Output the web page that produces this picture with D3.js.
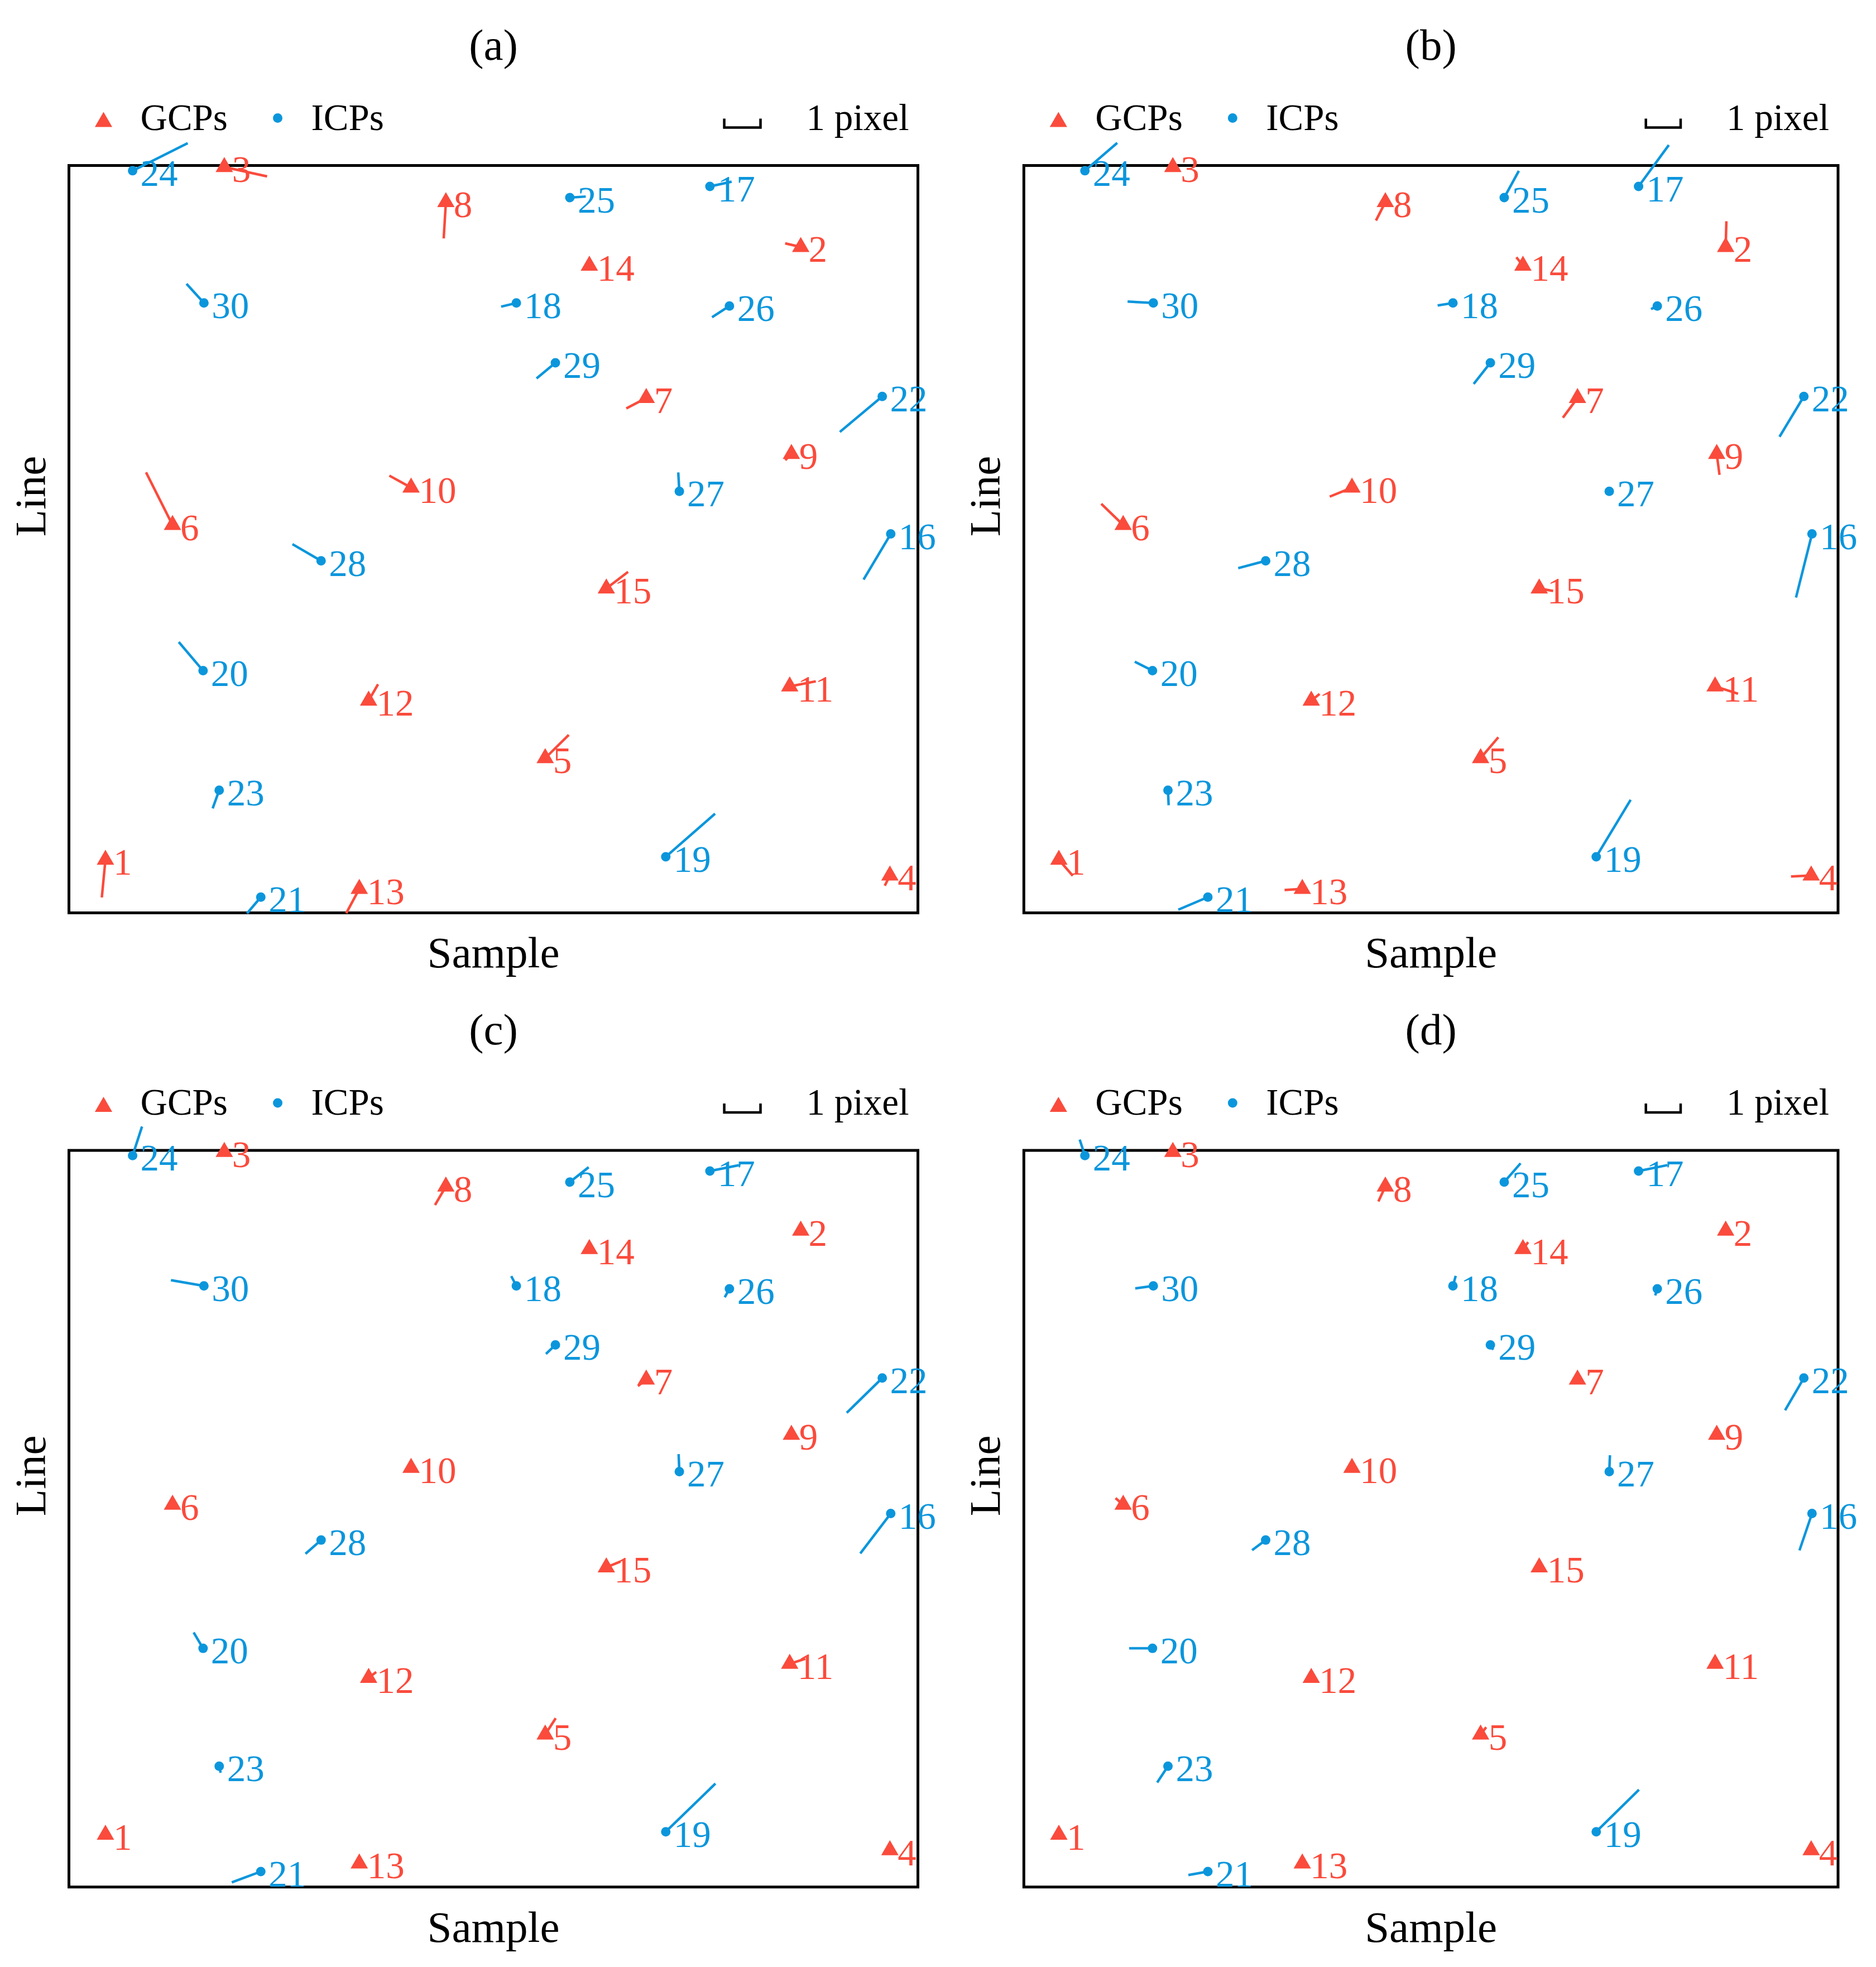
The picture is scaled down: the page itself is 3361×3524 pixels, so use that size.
<!DOCTYPE html>
<html>
<head>
<meta charset="utf-8">
<script src="https://cdn.jsdelivr.net/npm/d3@7"></script>
<style>
  body { margin: 0; background: #fff; }
  svg { display: block; font-family: "Liberation Serif", "Times New Roman", serif; }
</style>
</head>
<body>
<div id="chart"></div>
<script>
// Point ids (1-15 GCPs, 16-30 ICPs)
const pointIds = d3.range(1, 31);
const gcpIds = d3.range(1, 16);

// Image position of each point (sample, line), normalized 0-1000
const sampleVals = [43, 862, 183, 967, 561, 122, 680, 444, 851, 403, 849, 353, 342, 613, 633,
                    968, 755, 527, 703, 158, 226, 958, 177, 75, 590, 778, 719, 297, 573, 159];
const lineVals   = [929, 109, 2, 950, 793, 481, 311, 49, 386, 431, 697, 716, 968, 134, 566,
                    493, 28, 184, 925, 676, 979, 309, 836, 7, 43, 188, 436, 529, 264, 184];

// Residuals in pixels (sample direction, line direction) for each panel
const residA_dx = [-0.10, -0.43, 1.18, -0.14, 0.65, -0.73, -0.55, -0.06, -0.17, -0.60, 0.72, 0.26, -0.36, -0.04, 0.60,
                   -0.75, 0.60, -0.42, 1.36, -0.67, -0.38, -1.17, -0.18, 1.52, 0.44, -0.48, -0.03, -0.79, -0.52, -0.48];
const residA_dy = [1.04, -0.10, 0.26, 0.28, -0.64, -1.45, 0.29, 1.00, 0.17, -0.33, -0.14, -0.45, 0.67, 0.07, -0.46,
                   1.26, -0.13, 0.10, -1.19, -0.79, 0.45, 0.98, 0.50, -0.76, -0.03, 0.31, -0.52, -0.46, 0.43, -0.53];

const residB_dx = [0.40, 0.02, 0.10, -0.58, 0.51, -0.63, -0.42, -0.27, 0.08, -0.64, 0.66, 0.24, -0.51, -0.19, 0.40,
                   -0.46, 0.87, -0.44, 0.99, -0.51, -0.85, -0.70, 0.02, 0.93, 0.42, -0.18, 0.00, -0.79, -0.48, -0.74];
const residB_dy = [0.46, -0.74, 0.05, 0.03, -0.60, -0.61, 0.57, 0.53, 0.60, 0.26, 0.21, -0.19, 0.03, -0.24, 0.07,
                   1.83, -1.19, 0.07, -1.64, -0.26, 0.36, 1.16, 0.43, -0.80, -0.77, 0.09, 0.00, 0.21, 0.61, -0.04];

const residC_dx = [0, 0, 0.05, 0, 0.29, 0, -0.23, -0.30, -0.05, 0, 0.43, 0.21, 0, 0, 0.39,
                   -0.84, 0.80, -0.14, 1.37, -0.26, -0.80, -0.98, 0.04, 0.26, 0.52, -0.13, -0.02, -0.43, -0.26, -0.91];
const residC_dy = [0, 0, 0, 0, -0.45, 0, 0.18, 0.51, 0.10, 0, -0.14, -0.16, 0, 0, -0.16,
                   1.10, -0.16, -0.27, -1.33, -0.44, 0.30, 0.96, 0.18, -0.80, -0.41, 0.23, -0.48, 0.38, 0.25, -0.16];

const residD_dx = [0, 0, 0, 0, 0.16, -0.22, -0.10, -0.20, 0, 0, 0, 0, 0, 0.15, 0,
                   -0.36, 0.83, 0.08, 1.23, -0.67, -0.56, -0.54, -0.31, -0.15, 0.47, -0.06, 0.02, -0.39, 0.08, -0.52];
const residD_dy = [0, 0, 0, 0, -0.21, -0.19, 0.10, 0.43, 0, 0, 0, 0, 0, -0.20, 0,
                   1.06, -0.17, -0.29, -1.21, 0, 0.10, 0.93, 0.47, -0.46, -0.54, 0.19, -0.47, 0.29, 0.14, 0.07];

const panelTitles = ['(a)', '(b)', '(c)', '(d)'];
const legendLabels = ['GCPs', 'ICPs', '1 pixel'];

// Dimensions
const WIDTH = 3361;
const HEIGHT = 3524;
const PANEL_BOXES = [
    { left: 123.5, right: 1644.5, top: 296.5, bottom: 1635.4 },
    { left: 1834.3, right: 3293, top: 296.5, bottom: 1635.4 },
    { left: 123.5, right: 1644.5, top: 2061, bottom: 3380.7 },
    { left: 1834.3, right: 3293, top: 2061, bottom: 3380.7 }
];
const RESIDUALS = [
    [residA_dx, residA_dy], [residB_dx, residB_dy],
    [residC_dx, residC_dy], [residD_dx, residD_dy]
];

const RED = '#fa4b3c';
const BLUE = '#0b96dc';
const LABEL_SIZE = 67;
const TITLE_SIZE = 79;

const svg = d3.select('#chart').append('svg')
    .attr('width', WIDTH)
    .attr('height', HEIGHT)
    .style('background', '#fff');

const triangle = d3.symbol().type(d3.symbolTriangle).size(420);

/**
 * Draws one residual panel
 */
function drawPanel(idx) {
    const box = PANEL_BOXES[idx];
    const [rdx, rdy] = RESIDUALS[idx];
    const w = box.right - box.left;

    const x = d3.scaleLinear().domain([0, 1000]).range([box.left, box.right]);
    const y = d3.scaleLinear().domain([0, 1000]).range([box.top, box.bottom]);
    // 1 pixel of residual drawn as a fixed fraction of the panel width
    const vec = d3.scaleLinear().domain([0, 1]).range([0, 0.0427 * w]);

    const pts = pointIds.map((id, i) => ({
        id: id,
        gcp: gcpIds.includes(id),
        s: sampleVals[i],
        l: lineVals[i],
        dx: rdx[i],
        dy: rdy[i]
    }));

    const g = svg.append('g').attr('class', 'panel');

    // Cadre
    g.append('rect')
        .attr('x', box.left)
        .attr('y', box.top)
        .attr('width', w)
        .attr('height', box.bottom - box.top)
        .attr('fill', 'none')
        .attr('stroke', '#000')
        .attr('stroke-width', 5);

    // Titre
    g.append('text')
        .attr('x', (box.left + box.right) / 2)
        .attr('y', box.top - 190)
        .attr('text-anchor', 'middle')
        .attr('font-size', TITLE_SIZE)
        .text(panelTitles[idx]);

    // Axis labels
    g.append('text')
        .attr('x', (box.left + box.right) / 2)
        .attr('y', box.bottom + 98)
        .attr('text-anchor', 'middle')
        .attr('font-size', TITLE_SIZE)
        .text('Sample');

    g.append('text')
        .attr('transform', `translate(${box.left - 43},${(box.top + box.bottom) / 2 - 77}) rotate(-90)`)
        .attr('text-anchor', 'middle')
        .attr('font-size', TITLE_SIZE)
        .text('Line');

    // Legend
    const ly = box.top - 80;
    g.append('path')
        .attr('d', triangle)
        .attr('transform', `translate(${box.left + 62},${ly + 2})`)
        .attr('fill', RED);
    g.append('text')
        .attr('x', box.left + 128)
        .attr('y', ly + 16)
        .attr('font-size', LABEL_SIZE)
        .text(legendLabels[0]);
    g.append('circle')
        .attr('cx', box.left + 374)
        .attr('cy', ly - 5)
        .attr('r', 8.5)
        .attr('fill', BLUE);
    g.append('text')
        .attr('x', box.left + 434)
        .attr('y', ly + 16)
        .attr('font-size', LABEL_SIZE)
        .text(legendLabels[1]);

    const bx1 = box.right - 282;
    const bx0 = bx1 - vec(1);
    g.append('path')
        .attr('d', `M${bx0},${ly - 4}V${ly + 12}H${bx1}V${ly - 4}`)
        .attr('fill', 'none')
        .attr('stroke', '#000')
        .attr('stroke-width', 4.5);
    g.append('text')
        .attr('x', box.right - 200)
        .attr('y', ly + 16)
        .attr('font-size', LABEL_SIZE)
        .text(legendLabels[2]);

    // Labels des points
    g.selectAll('.pt-label')
        .data(pts)
        .enter()
        .append('text')
        .attr('class', 'pt-label')
        .attr('x', d => x(d.s) + 14)
        .attr('y', d => y(d.l) + 27)
        .attr('font-size', LABEL_SIZE)
        .attr('fill', d => d.gcp ? RED : BLUE)
        .text(d => d.id);

    // Residual vectors
    g.selectAll('.resid')
        .data(pts)
        .enter()
        .append('line')
        .attr('class', 'resid')
        .attr('x1', d => x(d.s))
        .attr('y1', d => y(d.l))
        .attr('x2', d => x(d.s) + vec(d.dx))
        .attr('y2', d => y(d.l) + vec(d.dy))
        .attr('stroke', d => d.gcp ? RED : BLUE)
        .attr('stroke-width', 4.5);

    // Markers
    g.selectAll('.gcp')
        .data(pts.filter(d => d.gcp))
        .enter()
        .append('path')
        .attr('class', 'gcp')
        .attr('d', triangle)
        .attr('transform', d => `translate(${x(d.s)},${y(d.l)})`)
        .attr('fill', RED);

    g.selectAll('.icp')
        .data(pts.filter(d => !d.gcp))
        .enter()
        .append('circle')
        .attr('class', 'icp')
        .attr('cx', d => x(d.s))
        .attr('cy', d => y(d.l))
        .attr('r', 8.5)
        .attr('fill', BLUE);
}

PANEL_BOXES.forEach((b, i) => drawPanel(i));
</script>
</body>
</html>
